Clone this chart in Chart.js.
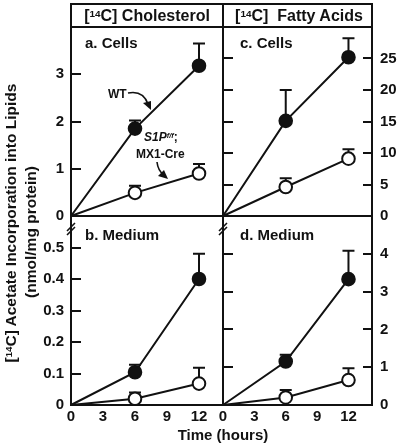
<!DOCTYPE html>
<html><head><meta charset="utf-8">
<script src="https://cdn.jsdelivr.net/npm/chart.js@4.4.1/dist/chart.umd.min.js"></script>
<style>
body{margin:0;background:#fff;}
#wrap{position:relative;width:400px;height:443px;overflow:hidden;font-family:"Liberation Sans",Arial,sans-serif;font-weight:bold;color:#111;}
canvas{position:absolute;left:0;top:0;}
.t{position:absolute;white-space:nowrap;line-height:1;}
.c{transform:translate(-50%,-50%);}
.l{transform:translateY(-50%);}
.r{transform:translate(-50%,-50%) rotate(-90deg);}
.sup{font-size:0.62em;position:relative;top:-0.45em;}
</style></head><body>
<div id="wrap">
<canvas id="c1" width="400" height="443"></canvas>
<canvas id="c2" width="400" height="443"></canvas>
<canvas id="c3" width="400" height="443"></canvas>
<canvas id="c4" width="400" height="443"></canvas>
<div class="t c" style="left:147px;top:16px;font-size:16px;">[<span class="sup">14</span>C] Cholesterol</div>
<div class="t c" style="left:299px;top:16px;font-size:16px;">[<span class="sup">14</span>C]&nbsp; Fatty Acids</div>
<div class="t l" style="left:85px;top:42px;font-size:15px;">a. Cells</div>
<div class="t l" style="left:240px;top:42px;font-size:15px;">c. Cells</div>
<div class="t l" style="left:85px;top:234px;font-size:15px;">b. Medium</div>
<div class="t l" style="left:240px;top:234px;font-size:15px;">d. Medium</div>
<div class="t l" style="left:108px;top:94px;font-size:12px;">WT</div>
<div class="t l" style="left:144px;top:137px;font-size:12px;"><i>S1P</i><span class="sup"><i>f/f</i></span>;</div>
<div class="t l" style="left:136px;top:154px;font-size:12px;">MX1-Cre</div>
<div class="t r" style="left:11px;top:223px;font-size:15.5px;">[<span class="sup">14</span>C] Acetate Incorporation into Lipids</div>
<div class="t r" style="left:31px;top:232px;font-size:15.5px;">(nmol/mg protein)</div>
<div class="t c" style="left:223px;top:434px;font-size:15px;">Time (hours)</div>
</div>
<script>
// ---- data ----
const times = [0, 6, 12];
const xTicks = [0, 3, 6, 9, 12];

const cholCellsWT = [0, 1.85, 3.18];
const cholCellsWTErr = [0, 0.17, 0.47];
const cholCellsKO = [0, 0.49, 0.90];
const cholCellsKOErr = [0, 0.15, 0.20];

const faCellsWT = [0, 15.1, 25.2];
const faCellsWTErr = [0, 4.9, 3.0];
const faCellsKO = [0, 4.6, 9.1];
const faCellsKOErr = [0, 1.4, 1.5];

const cholMedWT = [0, 0.104, 0.40];
const cholMedWTErr = [0, 0.024, 0.08];
const cholMedKO = [0, 0.020, 0.068];
const cholMedKOErr = [0, 0.020, 0.050];

const faMedWT = [0, 1.15, 3.33];
const faMedWTErr = [0, 0.18, 0.75];
const faMedKO = [0, 0.20, 0.66];
const faMedKOErr = [0, 0.20, 0.31];

const yTicksCholCells = [0, 1, 2, 3];
const yTicksFaCells = [0, 5, 10, 15, 20, 25];
const yTicksCholMed = [0, 0.1, 0.2, 0.3, 0.4, 0.5];
const yTicksFaMed = [0, 1, 2, 3, 4];

// ---- helpers ----
const FONT = {family: '"Liberation Sans", Arial, sans-serif', size: 15, weight: 'bold'};
const INK = '#111';

function pts(vals){ return times.map((t,i)=>({x:t,y:vals[i]})); }

function ds(vals, err, filled){
  return {
    data: pts(vals), errUp: err,
    borderColor: INK, borderWidth: 2,
    pointRadius: [0,6.3,6.3], pointHoverRadius: [0,6.3,6.3],
    pointBackgroundColor: filled ? INK : '#fff',
    pointBorderColor: INK, pointBorderWidth: 2,
    tension: 0, clip: false
  };
}

const panelPlugin = {
  id: 'panel',
  beforeDatasetsDraw(chart){
    const ctx = chart.ctx, ys = chart.scales.y;
    ctx.save();
    ctx.strokeStyle = INK; ctx.lineWidth = 2;
    chart.data.datasets.forEach((d, di) => {
      const meta = chart.getDatasetMeta(di);
      d.data.forEach((p, i) => {
        if (!d.errUp[i]) return;
        const el = meta.data[i];
        const yt = ys.getPixelForValue(p.y + d.errUp[i]);
        ctx.beginPath();
        ctx.moveTo(el.x, el.y); ctx.lineTo(el.x, yt);
        ctx.moveTo(el.x - 6, yt); ctx.lineTo(el.x + 6, yt);
        ctx.stroke();
      });
    });
    ctx.restore();
  },
  afterDraw(chart, args, opts){
    const ctx = chart.ctx, a = chart.chartArea, ys = chart.scales.y;
    ctx.save();
    ctx.strokeStyle = INK; ctx.lineWidth = 2;
    ctx.strokeRect(a.left, a.top, a.right - a.left, a.bottom - a.top);
    ctx.beginPath();
    ys.ticks.forEach(t => {
      const y = Math.round(ys.getPixelForValue(t.value));
      if (opts.tickLeft){ ctx.moveTo(a.left, y); ctx.lineTo(a.left + 10, y); }
      if (opts.tickRight){ ctx.moveTo(a.right - 9, y); ctx.lineTo(a.right, y); }
    });
    ctx.stroke();
    if (opts.header){
      ctx.strokeRect(a.left, 4, 372 - a.left, a.top - 4);
      ctx.beginPath(); ctx.moveTo(a.right, 4); ctx.lineTo(a.right, a.top); ctx.stroke();
    }
    if (opts.brk){
      // axis break marks
      ctx.fillStyle = '#fff';
      [a.left, a.right].forEach(x => {
        ctx.fillRect(x - 2, a.bottom + 10, 4, 5);
        ctx.beginPath();
        ctx.moveTo(x - 4, a.bottom + 15); ctx.lineTo(x + 4, a.bottom + 7);
        ctx.moveTo(x - 4, a.bottom + 19); ctx.lineTo(x + 4, a.bottom + 11);
        ctx.lineWidth = 1.6; ctx.stroke();
      });
      ctx.lineWidth = 2;
    }
    if (opts.arrows){
      ctx.lineWidth = 1.6;
      // WT arrow
      ctx.beginPath(); ctx.moveTo(128, 93); ctx.quadraticCurveTo(143, 90, 148, 104); ctx.stroke();
      ctx.beginPath(); ctx.moveTo(151, 110); ctx.lineTo(143, 103); ctx.lineTo(151, 101); ctx.closePath(); ctx.fillStyle = INK; ctx.fill();
      // S1P arrow
      ctx.beginPath(); ctx.moveTo(157, 162); ctx.quadraticCurveTo(158, 171, 164, 175); ctx.stroke();
      ctx.beginPath(); ctx.moveTo(168, 179); ctx.lineTo(158, 176); ctx.lineTo(164, 170); ctx.closePath(); ctx.fill();
    }
    ctx.restore();
  }
};

function fixedTicks(list){ return s => { s.ticks = list.map(v => ({value: v})); }; }

function makeChart(id, cfg){
  const xAxis = {
    type: 'linear', min: 0, max: 14.25, display: cfg.showX,
    afterBuildTicks: fixedTicks(xTicks),
    afterFit: s => { s.height = cfg.showX ? 38 : 0; },
    grid: {display: false, drawTicks: false}, border: {display: false},
    ticks: {font: FONT, color: INK, padding: 3, autoSkip: false, maxRotation: 0}
  };
  const yAxis = {
    type: 'linear', min: 0, max: cfg.ymax, position: cfg.ypos,
    afterBuildTicks: fixedTicks(cfg.yticks),
    afterFit: s => { s.width = cfg.ywidth; },
    grid: {display: false, drawTicks: false}, border: {display: false},
    ticks: {font: FONT, color: INK, padding: cfg.ypos === 'left' ? 7 : 8,
            autoSkip: false, callback: v => String(v)}
  };
  return new Chart(document.getElementById(id), {
    type: 'line',
    data: {datasets: [ds(cfg.wt, cfg.wtErr, true), ds(cfg.ko, cfg.koErr, false)]},
    options: {
      responsive: false, animation: false, events: [],
      layout: {padding: cfg.pad},
      plugins: {legend: {display: false}, tooltip: {enabled: false},
                panel: cfg.panel},
      scales: {x: xAxis, y: yAxis}
    },
    plugins: [panelPlugin]
  });
}

makeChart('c1', {wt: cholCellsWT, wtErr: cholCellsWTErr, ko: cholCellsKO, koErr: cholCellsKOErr,
  ymax: 4, yticks: yTicksCholCells, ypos: 'left', ywidth: 71, showX: false,
  pad: {left: 0, top: 27, right: 177, bottom: 227},
  panel: {tickLeft: true, header: true, brk: true, arrows: true}});
makeChart('c2', {wt: faCellsWT, wtErr: faCellsWTErr, ko: faCellsKO, koErr: faCellsKOErr,
  ymax: 30, yticks: yTicksFaCells, ypos: 'right', ywidth: 28, showX: false,
  pad: {left: 223, top: 27, right: 0, bottom: 227},
  panel: {tickLeft: true, tickRight: true}});
makeChart('c3', {wt: cholMedWT, wtErr: cholMedWTErr, ko: cholMedKO, koErr: cholMedKOErr,
  ymax: 0.6, yticks: yTicksCholMed, ypos: 'left', ywidth: 71, showX: true,
  pad: {left: 0, top: 216, right: 177, bottom: 0},
  panel: {tickLeft: true}});
makeChart('c4', {wt: faMedWT, wtErr: faMedWTErr, ko: faMedKO, koErr: faMedKOErr,
  ymax: 5, yticks: yTicksFaMed, ypos: 'right', ywidth: 28, showX: true,
  pad: {left: 223, top: 216, right: 0, bottom: 0},
  panel: {tickLeft: true, tickRight: true}});
</script>
</body></html>
